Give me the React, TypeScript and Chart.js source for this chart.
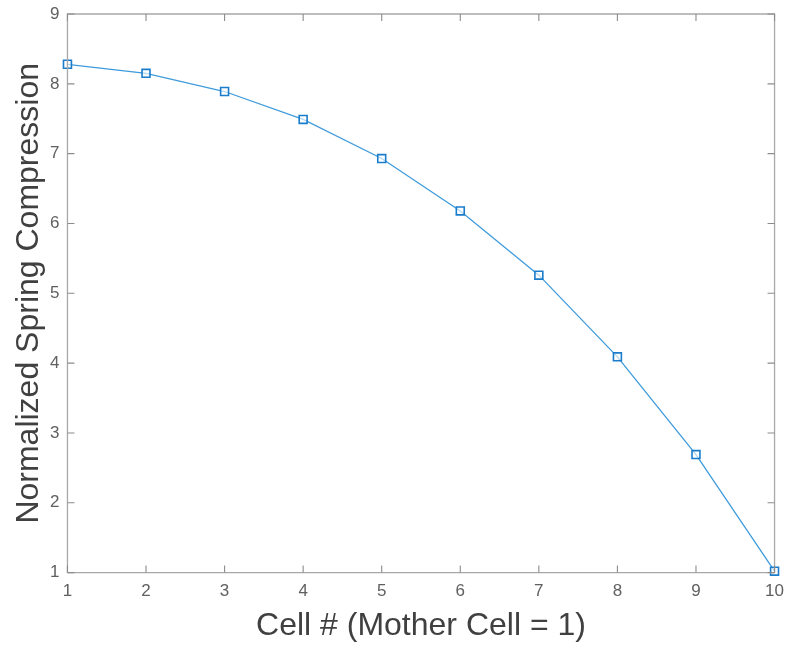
import React, { useEffect, useRef } from "react";
import { Chart, registerables } from "chart.js";

Chart.register(...registerables);

const cells = [1, 2, 3, 4, 5, 6, 7, 8, 9, 10];
const compression = [8.28, 8.15, 7.89, 7.49, 6.93, 6.18, 5.26, 4.09, 2.69, 1.02];
const xTitle = "Cell # (Mother Cell = 1)";
const yTitle = "Normalized Spring Compression";

const FONT = "'Liberation Sans', Arial, Helvetica, sans-serif";

const boxPlugin = {
  id: "insideTicksBox",
  afterDraw(chart: any) {
    const { ctx, chartArea } = chart;
    const { left, right, top, bottom } = chartArea;
    const len = 7;
    ctx.save();
    ctx.strokeStyle = "#a8a8a8";
    ctx.lineWidth = 1.3;
    ctx.beginPath();
    ctx.rect(left, top, right - left, bottom - top);
    ctx.stroke();
    const xs = chart.scales.x;
    const ys = chart.scales.y;
    ctx.strokeStyle = "#8c8c8c";
    ctx.lineWidth = 1.1;
    ctx.beginPath();
    xs.ticks.forEach((t: any) => {
      const px = xs.getPixelForValue(t.value);
      ctx.moveTo(px, bottom);
      ctx.lineTo(px, bottom - len);
      ctx.moveTo(px, top);
      ctx.lineTo(px, top + len);
    });
    ys.ticks.forEach((t: any) => {
      const py = ys.getPixelForValue(t.value);
      ctx.moveTo(left, py);
      ctx.lineTo(left + len, py);
      ctx.moveTo(right, py);
      ctx.lineTo(right - len, py);
    });
    ctx.stroke();
    ctx.restore();
  },
};

export default function App() {
  const ref = useRef<HTMLCanvasElement | null>(null);
  useEffect(() => {
    document.body.style.margin = "0";
    const canvas = ref.current;
    if (!canvas) return;
    const chart = new Chart(canvas, {
      type: "line",
      data: {
        datasets: [
          {
            data: cells.map((c, i) => ({ x: c, y: compression[i] })),
            borderColor: "#3f9bdb",
            borderWidth: 1.3,
            tension: 0,
            pointStyle: "rect",
            pointRadius: 5.6,
            pointBorderWidth: 1.6,
            pointBorderColor: "#1b7ccb",
            pointBackgroundColor: "rgba(255,255,255,0.6)",
            clip: false as any,
          },
        ],
      },
      options: {
        animation: false,
        responsive: false,
        devicePixelRatio: 1,
        layout: { padding: { top: 14, right: 0, bottom: 0, left: 0 } },
        plugins: {
          legend: { display: false },
          tooltip: { enabled: false },
        },
        scales: {
          x: {
            type: "linear",
            min: 1,
            max: 10,
            grid: { display: false, drawTicks: true, tickLength: 6 },
            border: { display: false },
            ticks: {
              stepSize: 1,
              padding: 3,
              color: "#606060",
              font: { family: FONT, size: 17 },
            },
            title: {
              display: true,
              text: xTitle,
              color: "#404040",
              font: { family: FONT, size: 32, lineHeight: 1 },
              padding: { top: 5, bottom: 6 },
            },
          },
          y: {
            type: "linear",
            min: 1,
            max: 9,
            grid: { display: false, drawTicks: true, tickLength: 5 },
            border: { display: false },
            ticks: {
              stepSize: 1,
              padding: 3,
              color: "#606060",
              font: { family: FONT, size: 17 },
            },
            title: {
              display: true,
              text: yTitle,
              color: "#404040",
              font: { family: FONT, size: 32, lineHeight: 1 },
              padding: { top: 13, bottom: 2 },
            },
          },
        },
      },
      plugins: [boxPlugin],
    });
    return () => chart.destroy();
  }, []);
  return <canvas ref={ref} width={787} height={648} style={{ display: "block" }} />;
}
